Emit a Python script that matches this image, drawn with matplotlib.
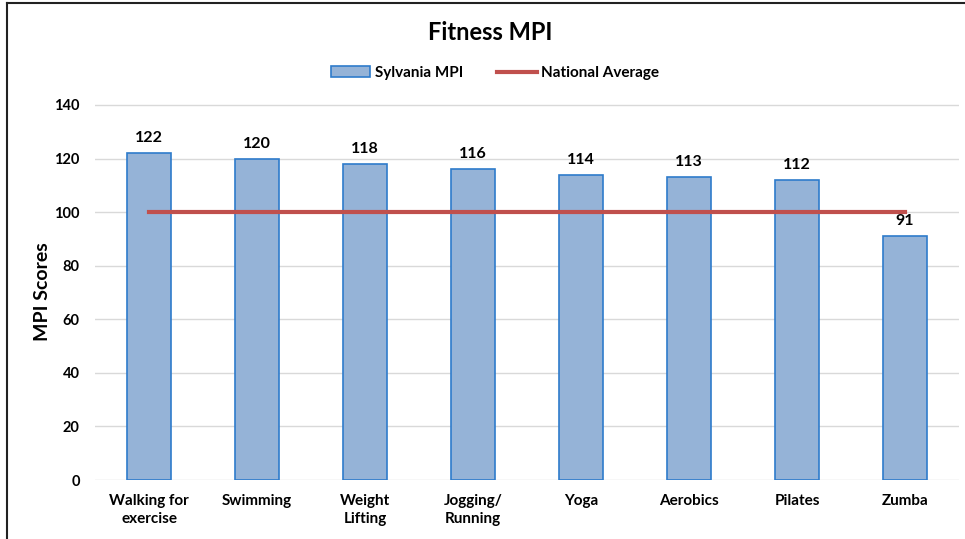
import numpy as np
import matplotlib
matplotlib.use("Agg")
import matplotlib.pyplot as plt
from matplotlib.lines import Line2D

categorias = ["Walking for\nexercise", "Swimming", "Weight\nLifting", "Jogging/\nRunning",
              "Yoga", "Aerobics", "Pilates", "Zumba"]
sylvania_mpi = [122, 120, 118, 116, 114, 113, 112, 91]
promedio_nacional = [100, 100, 100, 100, 100, 100, 100, 100]

plt.rcParams['font.family'] = ['Lato', 'DejaVu Sans']
plt.rcParams['font.weight'] = 'bold'

fig = plt.figure(figsize=(9.65, 5.39), dpi=100)
ax = fig.add_axes([95/965, 1-480/539, 864/965, 375/539 * 160/140])

x = np.arange(len(categorias))
barras = ax.bar(x, sylvania_mpi, width=0.4, color='#95B3D7', edgecolor='#2E7BCB',
                linewidth=1.2, label='Sylvania MPI', zorder=3)
linea, = ax.plot(x, promedio_nacional, color='#C0504D', linewidth=3, label='National Average', zorder=4)

for xi, v in zip(x, sylvania_mpi):
    ax.text(xi, v + 3, str(v), ha='center', va='bottom', fontsize=11.5, fontweight='bold')

ax.set_xlim(-0.5, 7.5)
ax.set_ylim(0, 160)
ax.set_yticks(range(0, 141, 20))
ax.set_xticks(x)
ax.set_xticklabels(categorias, fontsize=11, fontweight='bold', linespacing=1.35)
ax.tick_params(axis='y', labelsize=10.5, length=0, pad=11)
ax.tick_params(axis='x', length=0, pad=10)
for s in ax.spines.values():
    s.set_visible(False)
for yv in range(0, 141, 20):
    ax.axhline(yv, color='#D9D9D9', linewidth=1, zorder=1)

fig.text(42/965, 1-292/539, 'MPI Scores', rotation=90, ha='center', va='center',
         fontsize=14, fontweight='bold')

fig.text(490/965, 1-33/539, 'Fitness MPI', ha='center', va='center', fontsize=17, fontweight='bold')
fig.legend([barras, linea], ['Sylvania MPI', 'National Average'], loc='center',
           bbox_to_anchor=(495/965, 1-73/539), ncol=2, frameon=False,
           fontsize=11, handlelength=2.6, handleheight=0.7, columnspacing=2.2, handletextpad=0.3)

# marco del grafico
fig.add_artist(Line2D([7/965, 1], [1-3/539, 1-3/539], color='#222222', linewidth=1.5))
fig.add_artist(Line2D([7/965, 7/965], [0, 1-3/539], color='#222222', linewidth=1.5))

fig.savefig('out.png', dpi=100)
